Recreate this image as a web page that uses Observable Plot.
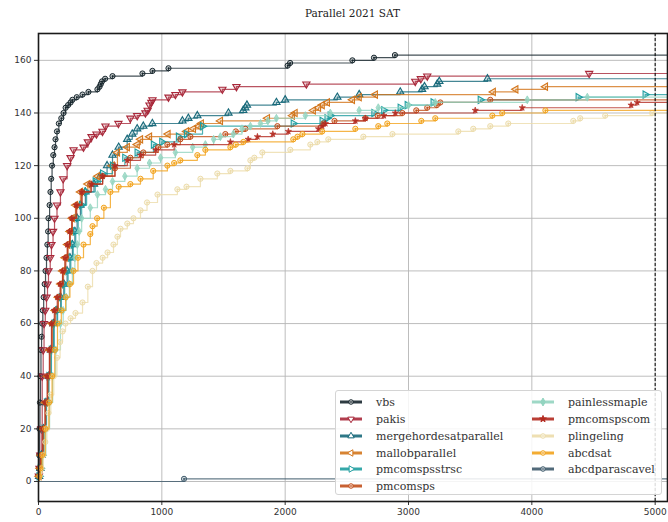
<!DOCTYPE html>
<html><head><meta charset="utf-8">
<script src="https://cdn.jsdelivr.net/npm/d3@7"></script>
<script src="https://cdn.jsdelivr.net/npm/@observablehq/plot@0.6"></script>
<style>
body{margin:0;background:#fff;}
#wrap{position:relative;width:668px;height:522px;overflow:hidden;}
#title{height:22px;font-family:"DejaVu Serif","Liberation Serif",serif;font-size:10.5px;color:#222;text-align:center;padding-left:37px;line-height:27px;box-sizing:border-box;width:668px;}
#legend{position:absolute;left:335px;top:390px;width:327px;height:105px;border:1px solid #d4d4d4;border-radius:3px;background:rgba(255,255,255,0.85);box-sizing:border-box;font-family:"DejaVu Serif","Liberation Serif",serif;font-size:11px;color:#333;}
.item{position:absolute;display:flex;align-items:center;height:17px;white-space:nowrap;}
.item svg{margin-right:14px;}
</style></head>
<body>
<div id="wrap"><div id="title">Parallel 2021 SAT</div><div id="chart"></div><div id="legend"></div></div>
<script>
const xTicks = [0, 1000, 2000, 3000, 4000, 5000];
const yTicks = [0, 20, 40, 60, 80, 100, 120, 140, 160];
const timeout = 5000;
const names = ["vbs","pakis","mergehordesatparallel","mallobparallel","pmcomspsstrsc","pmcomsps","painlessmaple","pmcomspscom","plingeling","abcdsat","abcdparascavel"];
const colors = ["#17262d","#a8283a","#17697a","#d3761c","#1f9ea0","#c2501c","#93d4c0","#b32a20","#ecdcaa","#f2a31c","#3e5a6b"];
const markers = ["odot","tri_down","tri_up","tri_left","tri_right","odot","diamond","star","odot","odot","odot"];

// [time (s), instances solved]
const vbs = [[2,2],[4,5],[6,10],[8,20],[12,30],[16,40],[20,50],[25,55],[30,60],[35,65],[42,70],[50,75],[57,80],[65,85],[72,90],[78,95],[81,100],[90,105],[97,110],[103,115],[110,120],[120,124],[130,127],[138,130],[150,133],[165,136],[185,138],[203,140],[220,142],[240,143],[260,144],[275,145],[310,146],[357,147],[405,148],[478,149],[495,150],[505,151],[515,152],[540,153],[600,154],[843,155],[924,156],[1054,157],[2020,158],[2040,159],[2545,160],[2720,161],[2890,162]];
const pakis = [[3,2],[8,5],[14,10],[22,20],[30,40],[38,50],[45,60],[55,65],[65,70],[73,75],[81,80],[95,85],[105,90],[118,95],[130,100],[150,105],[178,110],[200,115],[232,120],[260,123],[284,126],[365,127],[400,129],[430,131],[470,132],[519,133],[543,135],[648,136],[745,138],[800,139],[867,140],[885,141],[900,143],[915,144],[924,145],[1054,146],[1110,147],[1167,148],[1491,149],[1605,150],[2172,151],[3055,152],[3100,153],[3152,154],[4465,155]];
const mergehordesatparallel = [[5,2],[15,5],[25,10],[41,20],[60,30],[81,40],[100,50],[122,60],[150,65],[180,70],[205,75],[232,80],[255,85],[275,90],[295,95],[313,100],[340,105],[380,110],[450,113],[500,116],[556,120],[600,124],[650,127],[719,130],[760,132],[800,134],[850,135],[923,136],[1167,137],[1215,138],[1288,139],[1540,140],[1660,141],[1677,142],[1690,143],[1929,144],[2000,145],[2423,146],[2600,147],[2933,148],[3110,149],[3130,150],[3233,151],[3250,152],[3640,153]];
const mallobparallel = [[4,2],[12,5],[20,10],[35,20],[55,30],[73,40],[90,50],[110,60],[135,65],[160,70],[180,75],[195,80],[215,85],[235,90],[255,95],[273,100],[300,105],[340,110],[400,113],[480,116],[597,120],[640,125],[720,127],[800,128],[827,130],[900,131],[1050,132],[1200,133],[1256,134],[1300,135],[1320,136],[1475,137],[1856,138],[2058,139],[2080,140],[2228,141],[2270,142],[2300,143],[2342,144],[2545,145],[2600,146],[2731,147],[3687,148],[3870,149],[4110,150]];
const pmcomspsstrsc = [[5,2],[15,5],[28,10],[45,20],[65,30],[85,40],[105,50],[128,60],[155,65],[185,70],[212,75],[240,80],[262,85],[282,90],[302,95],[322,100],[350,105],[390,110],[460,114],[520,117],[600,120],[700,123],[800,125],[932,128],[1000,129],[1135,131],[1200,132],[1330,135],[2066,136],[2300,137],[2340,138],[2366,139],[2720,140],[2800,141],[2933,142],[2990,143],[3200,144],[3582,145],[4376,146],[4919,147]];
const pmcomsps = [[4,2],[12,5],[22,10],[38,20],[58,30],[76,40],[93,50],[111,60],[135,65],[160,70],[182,75],[203,80],[222,85],[240,90],[258,95],[273,100],[310,105],[354,110],[420,113],[520,116],[620,119],[745,123],[850,125],[972,127],[1045,128],[1150,130],[1232,131],[1515,132],[1600,133],[1677,134],[1937,135],[2310,136],[2400,137],[2650,138],[2750,139],[2950,140],[3063,141],[3152,142],[3230,143],[3258,144],[3663,145]];
const painlessmaple = [[8,2],[20,5],[35,10],[60,20],[90,30],[115,40],[140,50],[178,60],[200,65],[225,70],[250,75],[275,80],[295,85],[315,90],[330,95],[350,100],[420,104],[478,109],[543,111],[600,114],[700,116],[800,119],[900,121],[990,123],[1110,125],[1250,127],[1353,128],[1420,130],[1475,131],[1580,132],[1650,134],[1718,135],[1800,136],[1860,137],[1929,138],[2164,139],[2366,140],[2600,141],[2755,142],[3000,143],[3217,144],[3963,145],[4450,146]];
const pmcomspscom = [[3,2],[10,5],[18,10],[33,20],[52,30],[70,40],[88,50],[105,60],[128,65],[152,70],[175,75],[195,80],[215,85],[233,90],[252,95],[270,100],[305,105],[350,110],[430,113],[520,116],[620,120],[720,122],[827,124],[950,126],[1100,128],[1556,129],[1700,130],[1775,131],[1900,132],[2026,133],[2270,134],[2300,135],[2326,136],[2569,137],[2650,138],[2800,139],[2893,140],[3541,141],[3922,142],[4805,143],[4854,144]];
const plingeling = [[10,2],[25,5],[40,10],[55,15],[68,20],[81,26],[100,33],[124,40],[150,47],[175,53],[195,57],[219,60],[260,62],[300,64],[357,68],[400,74],[438,80],[470,83],[520,85],[560,87],[608,90],[640,93],[665,96],[720,98],[770,100],[827,103],[880,106],[965,109],[1126,111],[1200,112],[1313,115],[1450,117],[1556,118],[1694,119],[1718,122],[1750,123],[1815,125],[2042,126],[2204,128],[2261,129],[2350,130],[2634,131],[2870,132],[3404,133],[3525,134],[3663,135],[3809,136],[4336,137],[4392,138],[4595,139],[4976,140]];
const abcdsat = [[6,2],[15,5],[28,10],[55,20],[85,30],[110,40],[132,50],[154,60],[185,65],[220,70],[255,75],[284,80],[320,85],[365,90],[420,94],[438,97],[475,100],[530,104],[583,110],[650,112],[745,113],[827,115],[930,118],[1045,120],[1100,121],[1150,122],[1288,124],[1353,126],[1556,127],[1600,128],[1661,129],[2066,130],[2100,131],[2140,132],[2300,133],[2569,134],[2755,135],[2828,136],[3104,137],[3217,138],[3680,139],[3760,140],[4110,141]];
const abcdparascavel = [[1180,1]];

const seriesData = [vbs,pakis,mergehordesatparallel,mallobparallel,pmcomspsstrsc,pmcomsps,painlessmaple,pmcomspscom,plingeling,abcdsat,abcdparascavel];

const X_MAX = 5100, Y_MIN = -7.6, Y_MAX = 170.2;

function triangle(angle) {
  return {draw(ctx, size) {
    const s3 = Math.sqrt(3), y = -Math.sqrt(size / (s3 * 3));
    const pts = [[0, y * 2], [-s3 * y, -y], [s3 * y, -y]];
    const c = Math.cos(angle), s = Math.sin(angle);
    pts.forEach(([px, py], i) => { const rx = px * c - py * s, ry = px * s + py * c; i ? ctx.lineTo(rx, ry) : ctx.moveTo(rx, ry); });
    ctx.closePath();
  }};
}
const symbolMap = {
  tri_up: triangle(0), tri_down: triangle(Math.PI), tri_left: triangle(-Math.PI / 2), tri_right: triangle(Math.PI / 2),
  diamond: "diamond", star: "star"
};

const marks = [
  Plot.ruleX(xTicks, {stroke: "#b5b5b5", strokeWidth: 0.9}),
  Plot.ruleY(yTicks, {stroke: "#b5b5b5", strokeWidth: 0.9})
];

seriesData.forEach((pts, i) => {
  const col = colors[i], mk = markers[i];
  const last = pts[pts.length - 1][1];
  const linePts = [[0, 0], ...pts, [X_MAX, last]].map(([t, n]) => ({t, n}));
  const dotPts = pts.map(([t, n]) => ({t, n}));
  marks.push(Plot.line(linePts, {x: "t", y: "n", stroke: col, strokeWidth: 1.2, strokeOpacity: 0.8, curve: "step-after"}));
  if (mk === "odot") {
    marks.push(Plot.dot(dotPts, {x: "t", y: "n", r: 2.6, stroke: col, strokeWidth: 1, fill: col, fillOpacity: 0.25}));
    marks.push(Plot.dot(dotPts, {x: "t", y: "n", r: 0.9, fill: col, stroke: "none"}));
  } else if (mk === "diamond") {
    marks.push(Plot.dot(dotPts, {x: "t", y: "n", r: 2.4, symbol: symbolMap[mk], fill: col, stroke: col, strokeWidth: 0.8, fillOpacity: 0.8}));
  } else if (mk === "star") {
    marks.push(Plot.dot(dotPts, {x: "t", y: "n", r: 2.0, symbol: symbolMap[mk], fill: col, stroke: col, strokeWidth: 0.6, fillOpacity: 0.9}));
  } else {
    marks.push(Plot.dot(dotPts, {x: "t", y: "n", r: 2.7, symbol: symbolMap[mk], stroke: col, strokeWidth: 1.1, fill: col, fillOpacity: 0.2}));
  }
});

marks.push(Plot.ruleX([timeout], {stroke: "#000", strokeWidth: 1, strokeDasharray: "3,2"}));
marks.push(Plot.frame({stroke: "#1a1a1a", strokeWidth: 1.6}));

const chart = Plot.plot({
  width: 668, height: 500,
  marginTop: 11, marginBottom: 21, marginLeft: 38, marginRight: 1,
  style: {fontFamily: "DejaVu Sans", fontSize: "9px", color: "#333", background: "white"},
  x: {domain: [0, X_MAX], ticks: xTicks, tickFormat: d => String(d), label: null, tickSize: 4, tickPadding: 3},
  y: {domain: [Y_MIN, Y_MAX], ticks: yTicks, tickFormat: d => String(d), label: null, tickSize: 4, tickPadding: 3},
  marks
});
document.getElementById("chart").appendChild(chart);

// legend
const legend = d3.select("#legend");
const rowY = [11, 28, 45, 62, 78, 95];
names.forEach((name, i) => {
  const inFirst = i < 6;
  const row = inFirst ? i : i - 6;
  const item = legend.append("div").attr("class", "item")
    .style("left", (inFirst ? 4 : 196) + "px")
    .style("top", (rowY[row] - 8.5) + "px");
  const svg = item.append("svg").attr("width", 22).attr("height", 12);
  svg.append("line").attr("x1", 0).attr("x2", 22).attr("y1", 6).attr("y2", 6)
    .attr("stroke", colors[i]).attr("stroke-width", 3).attr("stroke-opacity", 0.9);
  const mk = markers[i];
  if (mk === "odot") {
    svg.append("circle").attr("cx", 11).attr("cy", 6).attr("r", 2.3).attr("fill", "white").attr("fill-opacity", 0.6).attr("stroke", colors[i]).attr("stroke-width", 1);
    svg.append("circle").attr("cx", 11).attr("cy", 6).attr("r", 0.8).attr("fill", colors[i]);
  } else {
    const type = mk === "diamond" ? d3.symbolDiamond : mk === "star" ? d3.symbolStar : symbolMap[mk];
    svg.append("path").attr("transform", "translate(11,6)")
      .attr("d", d3.symbol(type, mk === "star" ? 14 : 18)())
      .attr("fill", (mk === "diamond" || mk === "star") ? colors[i] : "white")
      .attr("stroke", colors[i]).attr("stroke-width", 1);
  }
  item.append("span").text(name);
});
</script>
</body></html>
